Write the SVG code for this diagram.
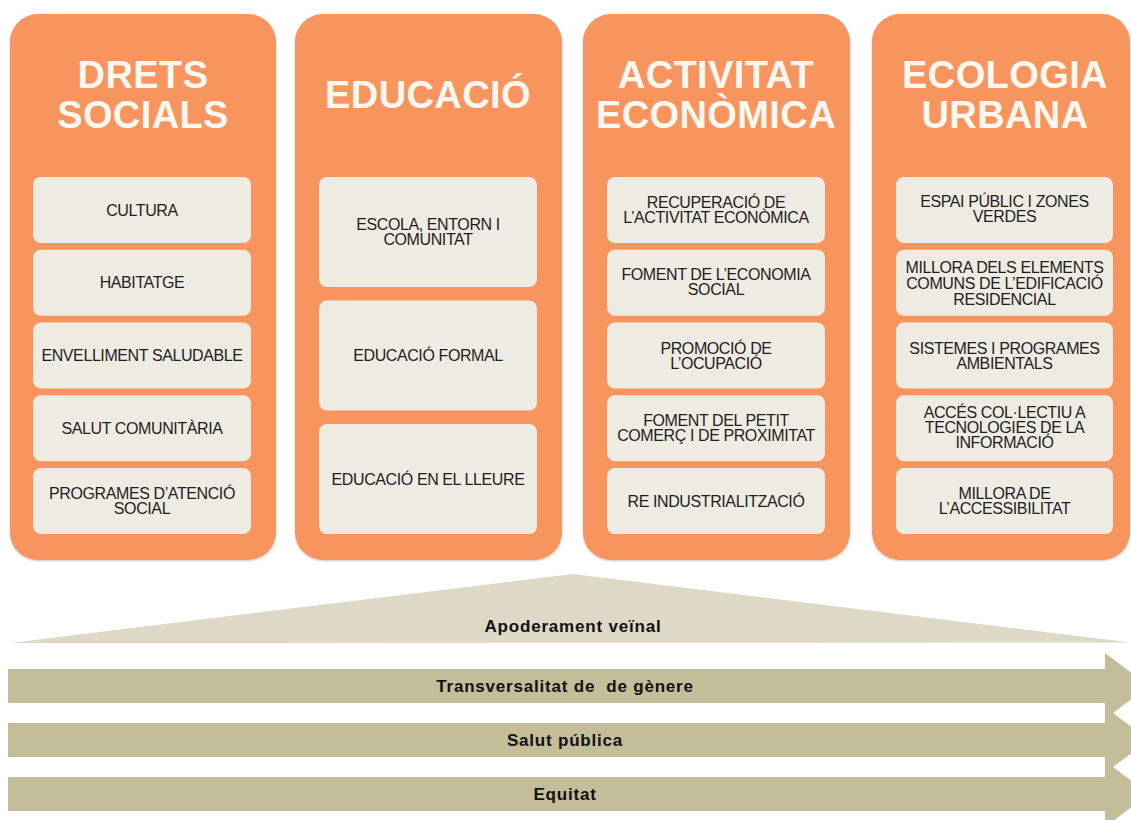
<svg xmlns="http://www.w3.org/2000/svg" width="1131" height="820" viewBox="0 0 1131 820">
<defs>
<filter id="sh" x="-5%" y="-5%" width="110%" height="110%">
<feDropShadow dx="0" dy="1" stdDeviation="1.2" flood-color="#8a7d74" flood-opacity="0.45"/>
</filter>
</defs>
<style>
.col{fill:#F8955F;filter:url(#sh)}
.box{fill:#EEEBE3}
.hd{font-family:"Liberation Sans",Arial,sans-serif;font-weight:bold;font-size:38px;fill:#FFF8F0;text-anchor:middle;letter-spacing:0.4px}
.it{font-family:"Liberation Sans",Arial,sans-serif;font-size:16px;fill:#1E1E1E;text-anchor:middle;letter-spacing:-0.4px}
.band{fill:#C4BD99}
.tri{fill:#DDD9C6}
.bt{font-family:"Liberation Sans",Arial,sans-serif;font-weight:bold;font-size:17px;fill:#111;text-anchor:middle;letter-spacing:0.8px;white-space:pre}
</style>
<rect width="1131" height="820" fill="#FFFFFF"/>

<g id="col-drets-socials">
<rect class="col" x="10" y="14" width="266" height="546" rx="28"/>
<text class="hd" x="143" y="88">DRETS</text>
<text class="hd" x="143" y="128">SOCIALS</text>
<g id="n-cultura"><rect class="box" x="33" y="177" width="218" height="66" rx="8"/><text class="it" x="142" y="215.7">CULTURA</text></g>
<g id="n-habitatge"><rect class="box" x="33" y="249.75" width="218" height="66" rx="8"/><text class="it" x="142" y="288.4">HABITATGE</text></g>
<g id="n-envelliment"><rect class="box" x="33" y="322.5" width="218" height="66" rx="8"/><text class="it" x="142" y="361.2">ENVELLIMENT SALUDABLE</text></g>
<g id="n-salut-com"><rect class="box" x="33" y="395.25" width="218" height="66" rx="8"/><text class="it" x="142" y="434">SALUT COMUNITÀRIA</text></g>
<g id="n-programes"><rect class="box" x="33" y="468" width="218" height="66" rx="8"/><text class="it" x="142" y="499.2">PROGRAMES D’ATENCIÓ</text><text class="it" x="142" y="514.2">SOCIAL</text></g>
</g>

<g id="col-educacio">
<rect class="col" x="295" y="14" width="267" height="546" rx="28"/>
<text class="hd" x="428" y="108">EDUCACIÓ</text>
<g id="n-escola"><rect class="box" x="319" y="177" width="218" height="110" rx="8"/><text class="it" x="428" y="230.2">ESCOLA, ENTORN I</text><text class="it" x="428" y="245.2">COMUNITAT</text></g>
<g id="n-formal"><rect class="box" x="319" y="300.5" width="218" height="110" rx="8"/><text class="it" x="428" y="361.2">EDUCACIÓ FORMAL</text></g>
<g id="n-lleure"><rect class="box" x="319" y="424" width="218" height="110" rx="8"/><text class="it" x="428" y="484.7">EDUCACIÓ EN EL LLEURE</text></g>
</g>

<g id="col-activitat">
<rect class="col" x="583" y="14" width="267" height="546" rx="28"/>
<text class="hd" x="716" y="88">ACTIVITAT</text>
<text class="hd" x="716" y="128">ECONÒMICA</text>
<g id="n-recuperacio"><rect class="box" x="607" y="177" width="218" height="66" rx="8"/><text class="it" x="716" y="208.2">RECUPERACIÓ DE</text><text class="it" x="716" y="223.2">L’ACTIVITAT ECONÒMICA</text></g>
<g id="n-economia"><rect class="box" x="607" y="249.75" width="218" height="66" rx="8"/><text class="it" x="716" y="280.4">FOMENT DE L’ECONOMIA</text><text class="it" x="716" y="295.4">SOCIAL</text></g>
<g id="n-ocupacio"><rect class="box" x="607" y="322.5" width="218" height="66" rx="8"/><text class="it" x="716" y="353.7">PROMOCIÓ DE</text><text class="it" x="716" y="368.7">L’OCUPACIÓ</text></g>
<g id="n-comerc"><rect class="box" x="607" y="395.25" width="218" height="66" rx="8"/><text class="it" x="716" y="426.4">FOMENT DEL PETIT</text><text class="it" x="716" y="441.4">COMERÇ I DE PROXIMITAT</text></g>
<g id="n-industria"><rect class="box" x="607" y="468" width="218" height="66" rx="8"/><text class="it" x="716" y="506.7">RE INDUSTRIALITZACIÓ</text></g>
</g>

<g id="col-ecologia">
<rect class="col" x="872" y="14" width="258" height="546" rx="28"/>
<text class="hd" x="1005" y="88">ECOLOGIA</text>
<text class="hd" x="1005" y="128">URBANA</text>
<g id="n-espai"><rect class="box" x="896" y="177" width="217" height="66" rx="8"/><text class="it" x="1004.5" y="207.2">ESPAI PÚBLIC I ZONES</text><text class="it" x="1004.5" y="222.2">VERDES</text></g>
<g id="n-millora-el"><rect class="box" x="896" y="249.75" width="217" height="66" rx="8"/><text class="it" x="1004.5" y="273.4">MILLORA DELS ELEMENTS</text><text class="it" x="1004.5" y="289">COMUNS DE L’EDIFICACIÓ</text><text class="it" x="1004.5" y="304.6">RESIDENCIAL</text></g>
<g id="n-sistemes"><rect class="box" x="896" y="322.5" width="217" height="66" rx="8"/><text class="it" x="1004.5" y="353.7">SISTEMES I PROGRAMES</text><text class="it" x="1004.5" y="368.7">AMBIENTALS</text></g>
<g id="n-acces"><rect class="box" x="896" y="395.25" width="217" height="66" rx="8"/><text class="it" x="1004.5" y="418.4">ACCÉS COL·LECTIU A</text><text class="it" x="1004.5" y="433.4">TECNOLOGIES DE LA</text><text class="it" x="1004.5" y="448.4">INFORMACIÓ</text></g>
<g id="n-accessibilitat"><rect class="box" x="896" y="468" width="217" height="66" rx="8"/><text class="it" x="1004.5" y="499.2">MILLORA DE</text><text class="it" x="1004.5" y="514.2">L’ACCESSIBILITAT</text></g>
</g>

<g id="connectors">
<g id="apoderament">
<polygon class="tri" points="10,643 573,574 1131,642.5"/>
<text class="bt" x="573" y="632">Apoderament veïnal</text>
</g>
<g id="transversalitat">
<path class="band" d="M8,669 H1105 V653 L1149,686 L1105,719 V703 H8 Z"/>
<text class="bt" x="565" y="692" xml:space="preserve">Transversalitat de  de gènere</text>
</g>
<g id="salut-publica">
<path class="band" d="M8,723 H1105 V707 L1149,740 L1105,773 V757 H8 Z"/>
<text class="bt" x="565" y="746">Salut pública</text>
</g>
<g id="equitat">
<path class="band" d="M8,777 H1105 V761 L1149,794 L1105,827 V811 H8 Z"/>
<text class="bt" x="565" y="800">Equitat</text>
</g>
</g>
</svg>
